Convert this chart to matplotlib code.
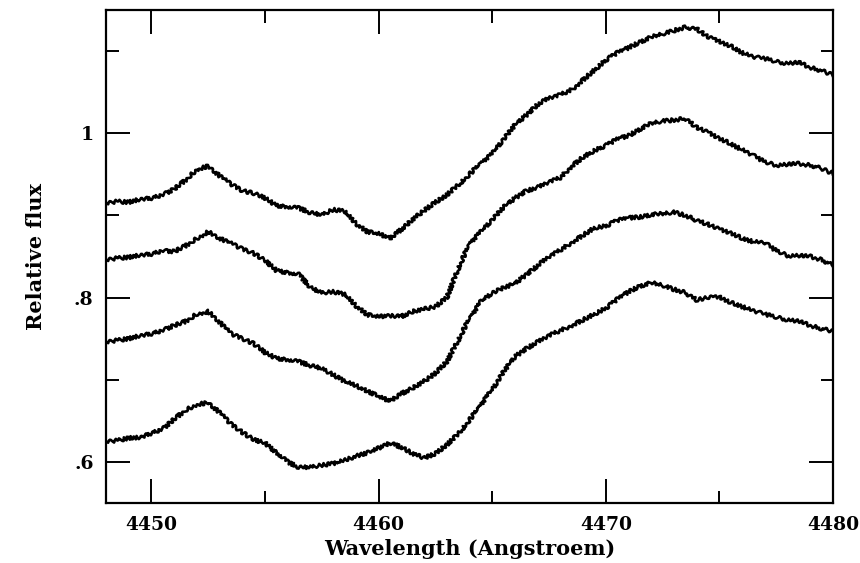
import numpy as np
import matplotlib
matplotlib.use("Agg")
import matplotlib.pyplot as plt
from matplotlib.ticker import MultipleLocator, FuncFormatter

# wavelength grid (Angstroem), read every 0.5 A off the plot
wave = [4448.0 + 0.5 * i for i in range(65)]

spec1 = [0.915, 0.917, 0.916, 0.920, 0.921, 0.925, 0.932, 0.943, 0.956, 0.960,
         0.948, 0.938, 0.930, 0.927, 0.921, 0.912, 0.910, 0.909, 0.903, 0.901,
         0.907, 0.905, 0.890, 0.880, 0.878, 0.872, 0.883, 0.895, 0.906, 0.916,
         0.925, 0.937, 0.950, 0.964, 0.975, 0.993, 1.010, 1.022, 1.035, 1.043,
         1.047, 1.053, 1.065, 1.077, 1.089, 1.098, 1.104, 1.111, 1.117, 1.121,
         1.125, 1.129, 1.127, 1.117, 1.112, 1.106, 1.098, 1.093, 1.091, 1.087,
         1.085, 1.086, 1.080, 1.076, 1.071]

spec2 = [0.846, 0.848, 0.849, 0.852, 0.853, 0.857, 0.856, 0.863, 0.872, 0.880,
         0.872, 0.866, 0.859, 0.854, 0.845, 0.833, 0.830, 0.828, 0.812, 0.806,
         0.807, 0.804, 0.790, 0.779, 0.777, 0.778, 0.777, 0.783, 0.786, 0.789,
         0.800, 0.835, 0.866, 0.880, 0.895, 0.910, 0.921, 0.930, 0.934, 0.941,
         0.946, 0.960, 0.971, 0.979, 0.985, 0.993, 0.997, 1.005, 1.012, 1.015,
         1.016, 1.018, 1.007, 1.001, 0.994, 0.987, 0.980, 0.973, 0.965, 0.961,
         0.962, 0.963, 0.961, 0.957, 0.951]

spec3 = [0.746, 0.748, 0.750, 0.754, 0.756, 0.760, 0.766, 0.771, 0.780, 0.783,
         0.770, 0.756, 0.750, 0.744, 0.733, 0.726, 0.724, 0.722, 0.717, 0.714,
         0.706, 0.698, 0.693, 0.686, 0.680, 0.674, 0.683, 0.690, 0.698, 0.708,
         0.722, 0.748, 0.775, 0.795, 0.806, 0.812, 0.817, 0.828, 0.839, 0.850,
         0.858, 0.867, 0.876, 0.885, 0.887, 0.894, 0.897, 0.898, 0.901, 0.902,
         0.904, 0.900, 0.894, 0.889, 0.883, 0.879, 0.872, 0.868, 0.867, 0.857,
         0.851, 0.851, 0.850, 0.846, 0.839]

spec4 = [0.625, 0.626, 0.629, 0.630, 0.635, 0.640, 0.652, 0.663, 0.670, 0.672,
         0.660, 0.646, 0.636, 0.627, 0.623, 0.611, 0.600, 0.593, 0.594, 0.596,
         0.598, 0.602, 0.607, 0.611, 0.617, 0.623, 0.618, 0.610, 0.605, 0.610,
         0.621, 0.634, 0.651, 0.670, 0.688, 0.710, 0.728, 0.738, 0.746, 0.754,
         0.760, 0.766, 0.773, 0.780, 0.787, 0.798, 0.807, 0.814, 0.818, 0.815,
         0.810, 0.806, 0.797, 0.800, 0.801, 0.794, 0.789, 0.784, 0.780, 0.776,
         0.773, 0.771, 0.766, 0.762, 0.759]

font = {"family": "DejaVu Serif", "weight": "bold", "size": 15}

fig = plt.figure(figsize=(8.6, 5.63), dpi=100)
ax = fig.add_axes([106 / 860, 60 / 563, 727 / 860, 493 / 563])

for s in (spec1, spec2, spec3, spec4):
    line, = ax.plot(wave, s, color="black", lw=1.9, solid_joinstyle="round")
    # scanned spectra are noisy; give the trace a slightly ragged look
    line.set_sketch_params(scale=1.8, length=5, randomness=3)

ax.set_xlim(4448, 4480)
ax.set_ylim(0.55, 1.15)

ax.xaxis.set_major_locator(MultipleLocator(10))
ax.xaxis.set_minor_locator(MultipleLocator(5))
ax.yaxis.set_major_locator(MultipleLocator(0.2))
ax.yaxis.set_minor_locator(MultipleLocator(0.1))

def ylab(v, pos):
    if abs(v - 1) < 1e-6:
        return "1"
    return ("%.1f" % v).lstrip("0")

ax.yaxis.set_major_formatter(FuncFormatter(ylab))
ax.xaxis.set_major_formatter(FuncFormatter(lambda v, p: "%d" % round(v)))

ax.tick_params(which="both", direction="in", top=True, right=True, width=1.4)
ax.tick_params(which="major", length=17, pad=9)
ax.tick_params(which="minor", length=9)
for lab in ax.get_xticklabels() + ax.get_yticklabels():
    lab.set_fontfamily(font["family"])
    lab.set_fontweight("bold")
    lab.set_fontsize(13.5)

for sp in ax.spines.values():
    sp.set_linewidth(1.6)

ax.set_xlabel("Wavelength (Angstroem)", fontdict=font, labelpad=4)
ax.set_ylabel("Relative flux", fontdict=font, labelpad=20)

fig.savefig("out.png", dpi=100)
